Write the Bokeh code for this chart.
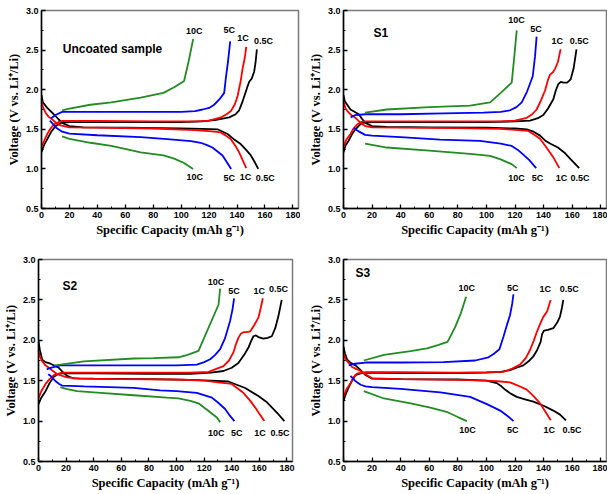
from bokeh.plotting import figure
from bokeh.layouts import column, row
from bokeh.models import Range1d, SingleIntervalTicker, PrintfTickFormatter, ColumnDataSource
from bokeh.core.properties import value
from bokeh.embed import file_html
from bokeh.resources import INLINE

# ---------------- data: (capacity mAh/g, voltage V) ----------------
RATES = ["0.5C", "1C", "5C", "10C"]
COLORS = {"0.5C": "#000000", "1C": "#ff0000", "5C": "#0000ff", "10C": "#228b22"}

# Uncoated sample
u_05c_ch = [(0,1.21),(2,1.31),(4.1,1.375),(7,1.47),(10,1.54),(14,1.58),(20,1.59),(60,1.59),(100,1.59),(115,1.60),(125,1.62),(134.4,1.65),(139,1.69),(141.5,1.74),(143.5,1.83),(145.6,1.94),(147.5,2.04),(148.7,2.10),(150.5,2.14),(152.3,2.23),(153.3,2.35),(154.2,2.51)]
u_05c_dis = [(0,1.93),(1,1.84),(4.1,1.77),(8.8,1.69),(12,1.63),(14.8,1.58),(20,1.54),(30,1.525),(60,1.52),(100,1.51),(115,1.505),(126,1.50),(133.2,1.44),(138,1.37),(142.8,1.31),(146.5,1.24),(149.9,1.17),(152.5,1.09),(155.2,1.0)]
u_1c_ch = [(0,1.28),(2,1.36),(4.1,1.44),(6.5,1.51),(8.8,1.56),(12,1.59),(15,1.605),(40,1.605),(80,1.60),(110,1.60),(120,1.61),(128.4,1.65),(132.5,1.69),(135.6,1.73),(138.5,1.82),(140.4,1.92),(142.5,2.10),(144,2.27),(145.5,2.40),(146.6,2.54)]
u_1c_dis = [(0,1.86),(1,1.78),(2.9,1.71),(5,1.66),(7.7,1.625),(10.5,1.58),(13.6,1.55),(20,1.525),(40,1.52),(80,1.51),(110,1.49),(122,1.475),(128.4,1.46),(132,1.42),(135.6,1.375),(138.5,1.30),(141.5,1.21),(144,1.11),(146.6,1.01)]
u_5c_ch = [(7,1.64),(10,1.68),(14.8,1.72),(20,1.72),(40,1.72),(80,1.72),(100,1.72),(110,1.73),(115.3,1.75),(120,1.77),(123.6,1.81),(127.5,1.88),(130.8,1.96),(132,2.15),(133.5,2.35),(135.1,2.61)]
u_5c_dis = [(6,1.61),(8,1.57),(10.5,1.52),(14.8,1.47),(20,1.445),(40,1.425),(71,1.40),(90,1.375),(107,1.35),(114,1.33),(118.5,1.30),(122.4,1.27),(126,1.22),(129.6,1.17),(132.5,1.09),(135.8,1.0)]
u_10c_ch = [(14.8,1.74),(20,1.76),(35,1.81),(50,1.84),(71,1.90),(87.3,1.96),(95,2.03),(102.1,2.11),(105,2.33),(108.6,2.64)]
u_10c_dis = [(14.8,1.41),(20,1.38),(35,1.33),(50,1.29),(71,1.21),(87.3,1.17),(95,1.13),(102.1,1.075),(105,1.04),(108.6,1.0)]

# S1
s1_05c_ch = [(0,1.21),(1.5,1.30),(3.7,1.36),(6,1.44),(8.4,1.50),(11,1.55),(13.1,1.58),(20,1.59),(60,1.59),(100,1.59),(120,1.60),(130.5,1.61),(136,1.64),(139.8,1.68),(143,1.76),(146.8,1.88),(148.5,1.99),(150.3,2.07),(152,2.10),(153.8,2.09),(156.5,2.09),(158.9,2.13),(161,2.27),(163,2.51)]
s1_05c_dis = [(0,1.93),(1,1.85),(4.9,1.75),(10.7,1.69),(13,1.63),(15.4,1.58),(20,1.54),(30,1.53),(60,1.525),(100,1.52),(120,1.51),(128.2,1.50),(133,1.47),(137.5,1.42),(141,1.36),(144.5,1.32),(150,1.27),(154.9,1.20),(159,1.12),(164.9,1.01)]
s1_1c_ch = [(0,1.28),(2,1.37),(4.9,1.44),(7,1.51),(9.5,1.56),(12,1.59),(15.4,1.60),(40,1.60),(80,1.60),(110,1.60),(120,1.61),(128.2,1.645),(132,1.69),(135.1,1.75),(138,1.86),(141,1.99),(143,2.12),(144.5,2.19),(146.5,2.22),(147.9,2.26),(150,2.35),(151.9,2.51)]
s1_1c_dis = [(0,1.85),(1.5,1.76),(3.7,1.71),(6,1.67),(8.4,1.645),(12,1.58),(15.4,1.54),(20,1.525),(40,1.52),(80,1.515),(110,1.505),(122,1.49),(129.3,1.48),(133.5,1.43),(137.5,1.38),(142,1.27),(147,1.14),(151,1.01)]
s1_5c_ch = [(5,1.65),(8.2,1.68),(15.4,1.69),(40,1.69),(70,1.70),(97.8,1.71),(110,1.72),(116.5,1.74),(121,1.78),(124.7,1.84),(128.5,1.98),(132.4,2.17),(134,2.42),(135.1,2.67)]
s1_5c_dis = [(7.2,1.52),(10,1.48),(15.1,1.43),(20,1.42),(40,1.40),(67.5,1.37),(95.5,1.355),(110,1.32),(117.7,1.29),(122,1.24),(125.8,1.18),(130,1.11),(134.8,1.01)]
s1_10c_ch = [(15.1,1.71),(30.3,1.75),(60,1.78),(88.5,1.80),(102.6,1.84),(110,1.96),(117.7,2.09),(119.5,2.42),(121.2,2.75)]
s1_10c_dis = [(15.1,1.32),(30.3,1.27),(60,1.23),(88.5,1.19),(102.6,1.165),(110,1.12),(117.7,1.06),(121.2,1.01)]

# S2
s2_05c_ch = [(0,1.21),(2,1.29),(5.1,1.37),(8,1.47),(11.1,1.55),(14,1.58),(18.3,1.595),(40,1.59),(80,1.585),(110,1.585),(125,1.60),(134,1.62),(140,1.66),(144.8,1.72),(149,1.82),(152.1,1.91),(154,1.99),(155.7,2.05),(157.5,2.06),(159.3,2.04),(162.9,2.02),(166,2.03),(169,2.05),(171.5,2.15),(173.8,2.30),(176.2,2.50)]
s2_05c_dis = [(0,1.99),(1,1.88),(2.7,1.76),(5,1.73),(8.7,1.71),(14.7,1.66),(18,1.60),(20.7,1.56),(25,1.53),(40,1.525),(80,1.52),(110,1.51),(125,1.50),(137.6,1.49),(149.7,1.41),(159.3,1.31),(165,1.24),(169,1.17),(173,1.10),(178.1,1.0)]
s2_1c_ch = [(0,1.28),(2,1.37),(5.1,1.46),(8,1.52),(11.1,1.57),(17.1,1.60),(40,1.60),(80,1.60),(110,1.60),(123.2,1.61),(134,1.68),(138,1.75),(141.2,1.85),(143,1.95),(144.8,2.03),(146.5,2.08),(148.4,2.10),(151,2.10),(153.3,2.11),(156,2.18),(159.3,2.28),(161,2.40),(162.5,2.52)]
s2_1c_dis = [(0,1.87),(1,1.80),(2.7,1.74),(5,1.69),(7.5,1.66),(13.5,1.58),(20.7,1.54),(30,1.525),(60,1.52),(100,1.515),(120,1.50),(130,1.48),(140,1.46),(148.4,1.35),(153,1.26),(156.9,1.17),(160.5,1.08),(163.6,1.0)]
s2_5c_ch = [(6,1.64),(8.7,1.66),(15.9,1.69),(40,1.69),(80,1.69),(100,1.69),(114.7,1.70),(120,1.73),(124.4,1.765),(128,1.82),(131.6,1.89),(135,2.02),(138.8,2.24),(140.5,2.38),(141.7,2.52)]
s2_5c_dis = [(7,1.58),(8.7,1.56),(12,1.50),(15,1.46),(17.1,1.44),(33,1.43),(69,1.41),(88,1.38),(100,1.37),(114.7,1.35),(125.6,1.29),(130,1.23),(135.2,1.15),(138.5,1.07),(141.9,1.0)]
s2_10c_ch = [(11.3,1.69),(15.9,1.70),(32.9,1.74),(69,1.775),(83.4,1.78),(101.4,1.79),(108,1.82),(115.9,1.87),(130.4,2.44),(131.6,2.64)]
s2_10c_dis = [(15.9,1.42),(20,1.40),(28,1.37),(45,1.35),(69,1.32),(93,1.29),(101.4,1.28),(110,1.25),(115.9,1.22),(122,1.14),(129.2,1.045),(131.6,0.985)]

# S3
s3_05c_ch = [(0,1.25),(1.5,1.33),(3.7,1.42),(6,1.50),(8.4,1.57),(12,1.59),(15.4,1.60),(40,1.595),(80,1.595),(100,1.60),(110,1.61),(116.5,1.63),(121,1.66),(125.8,1.69),(129.5,1.74),(132.8,1.80),(135.5,1.88),(137.9,1.98),(139,2.08),(140.3,2.12),(143,2.13),(146.8,2.15),(149.5,2.22),(151.4,2.29),(152.8,2.40),(153.8,2.50)]
s3_05c_dis = [(0,1.92),(1,1.84),(2.6,1.76),(5,1.72),(8.4,1.69),(12,1.63),(15.4,1.57),(20,1.525),(40,1.52),(80,1.515),(100,1.50),(107.2,1.47),(110.5,1.43),(113,1.39),(117,1.34),(121.2,1.30),(127,1.27),(132.8,1.24),(140,1.19),(146.8,1.13),(151.5,1.08),(155.6,1.01)]
s3_1c_ch = [(0,1.30),(2,1.39),(4.9,1.47),(7,1.54),(9.6,1.59),(16.3,1.605),(40,1.605),(80,1.60),(100,1.605),(111.9,1.61),(118,1.65),(123.5,1.70),(127.5,1.78),(130.5,1.88),(133,1.99),(135.2,2.10),(137.5,2.20),(139.8,2.29),(142.5,2.36),(144.9,2.50)]
s3_1c_dis = [(0,1.84),(1.5,1.76),(3.7,1.72),(6,1.67),(8.4,1.65),(12,1.62),(15.4,1.58),(20,1.53),(40,1.52),(80,1.51),(100,1.50),(110,1.49),(116.5,1.48),(122,1.44),(128.2,1.39),(133,1.31),(137.5,1.22),(141.5,1.11),(145,1.01)]
s3_5c_ch = [(3.7,1.69),(8,1.71),(15.4,1.725),(40,1.725),(70,1.73),(92.1,1.75),(101.4,1.79),(105,1.83),(109.1,1.89),(112,2.05),(114.5,2.20),(116.5,2.31),(118,2.45),(118.9,2.57)]
s3_5c_dis = [(4.9,1.56),(8,1.50),(12,1.45),(15.4,1.43),(20,1.42),(40,1.40),(67.8,1.355),(88.6,1.30),(100.3,1.21),(105,1.17),(109.6,1.13),(115,1.06),(118.9,1.0)]
s3_10c_ch = [(14.2,1.75),(28.3,1.82),(46.9,1.865),(58.4,1.90),(66,1.94),(72.8,1.98),(78,2.16),(82,2.33),(85.8,2.54)]
s3_10c_dis = [(14.2,1.37),(28.3,1.28),(46.9,1.22),(60,1.17),(72.8,1.11),(80,1.05),(86.3,1.0)]

# rate labels: (text, capacity, voltage)
u_labels = [("10C",109.3,2.74),("5C",134.4,2.76),("1C",144.2,2.65),("0.5C",159,2.61),
            ("10C",109.8,0.90),("5C",134.4,0.89),("1C",146.1,0.90),("0.5C",160.2,0.89)]
s1_labels = [("10C",121,2.88),("5C",134.7,2.77),("1C",149.6,2.62),("0.5C",165,2.62),
             ("10C",121,0.88),("5C",135.8,0.88),("1C",152.6,0.88),("0.5C",165.4,0.88)]
s2_labels = [("10C",128.5,2.72),("5C",141.7,2.61),("1C",160,2.61),("0.5C",173.8,2.63),
             ("10C",128.7,0.85),("5C",143.7,0.85),("1C",160.5,0.85),("0.5C",175,0.85)]
s3_labels = [("10C",86.3,2.65),("5C",118.4,2.65),("1C",141.2,2.64),("0.5C",157.9,2.64),
             ("10C",86.8,0.89),("5C",118.4,0.89),("1C",144,0.89),("0.5C",159.8,0.89)]

# panel titles: (text, capacity, voltage)
u_title = ("Uncoated sample", 15.3, 2.52)
s1_title = ("S1", 21, 2.72)
s2_title = ("S2", 17.4, 2.67)
s3_title = ("S3", 8.4, 2.83)

X_LABEL = "Specific Capacity (mAh g\u207b\u00b9)"
Y_LABEL = "Voltage (V vs. Li\u207a/Li)"

SANS = "Liberation Sans"
SERIF = "Liberation Serif"


def panel(curves, labels, title, width, height, bl, br, bt, bb):
    p = figure(width=width, height=height, x_range=Range1d(0, 184), y_range=Range1d(0.5, 3.0),
               output_backend="svg", toolbar_location=None,
               min_border_left=bl, min_border_right=br, min_border_top=bt, min_border_bottom=bb)
    p.xgrid.visible = False
    p.ygrid.visible = False
    p.background_fill_color = "white"
    p.border_fill_color = "white"
    p.outline_line_color = "#7a7a7a"
    p.outline_line_width = 1.5

    p.xaxis.ticker = SingleIntervalTicker(interval=20, num_minor_ticks=2)
    p.yaxis.ticker = SingleIntervalTicker(interval=0.5, num_minor_ticks=2)
    p.yaxis.formatter = PrintfTickFormatter(format="%.1f")
    for ax in (p.xaxis, p.yaxis):
        ax.axis_line_width = 1.5
        ax.axis_line_color = "black"
        ax.major_tick_in = 4
        ax.major_tick_out = 0
        ax.minor_tick_in = 2
        ax.minor_tick_out = 0
        ax.major_tick_line_width = 1.3
        ax.major_label_text_font = SANS
        ax.major_label_text_font_style = "bold"
        ax.major_label_text_font_size = "9px"
        ax.major_label_text_color = "black"
        ax.major_label_standoff = 3
        ax.axis_label_text_font = SERIF
        ax.axis_label_text_font_style = "bold"
        ax.axis_label_text_font_size = "12.5px"
        ax.axis_label_text_color = "black"
        ax.axis_label_standoff = 2
    p.xaxis.axis_label = X_LABEL
    p.yaxis.axis_label = Y_LABEL

    for rate, ch, dis in curves:
        for pts in (ch, dis):
            p.line([a for a, _ in pts], [b for _, b in pts], line_color=COLORS[rate], line_width=1.8)

    src = ColumnDataSource(dict(t=[l[0] for l in labels], x=[l[1] for l in labels], y=[l[2] for l in labels]))
    p.text(x="x", y="y", text="t", source=src, text_font=value(SANS), text_font_style="bold",
           text_font_size="9px", text_align="center", text_baseline="middle", text_color="black")
    p.text(x=[title[1]], y=[title[2]], text=[title[0]], text_font=value(SANS), text_font_style="bold",
           text_font_size="12px", text_align="left", text_baseline="middle", text_color="black")
    return p


pa = panel([("0.5C", u_05c_ch, u_05c_dis), ("1C", u_1c_ch, u_1c_dis), ("5C", u_5c_ch, u_5c_dis), ("10C", u_10c_ch, u_10c_dis)],
           u_labels, u_title, 300, 245, 41, 2, 10, 35)
pb = panel([("0.5C", s1_05c_ch, s1_05c_dis), ("1C", s1_1c_ch, s1_1c_dis), ("5C", s1_5c_ch, s1_5c_dis), ("10C", s1_10c_ch, s1_10c_dis)],
           s1_labels, s1_title, 307, 245, 43, 1, 5, 37)
pc = panel([("0.5C", s2_05c_ch, s2_05c_dis), ("1C", s2_1c_ch, s2_1c_dis), ("5C", s2_5c_ch, s2_5c_dis), ("10C", s2_10c_ch, s2_10c_dis)],
           s2_labels, s2_title, 300, 249, 38, 8, 13, 33)
pd_ = panel([("0.5C", s3_05c_ch, s3_05c_dis), ("1C", s3_1c_ch, s3_1c_dis), ("5C", s3_5c_ch, s3_5c_dis), ("10C", s3_10c_ch, s3_10c_dis)],
            s3_labels, s3_title, 307, 249, 43, 1, 14, 32)

layout = column(row(pa, pb), row(pc, pd_))
open("out.html", "w").write(file_html(layout, INLINE))
